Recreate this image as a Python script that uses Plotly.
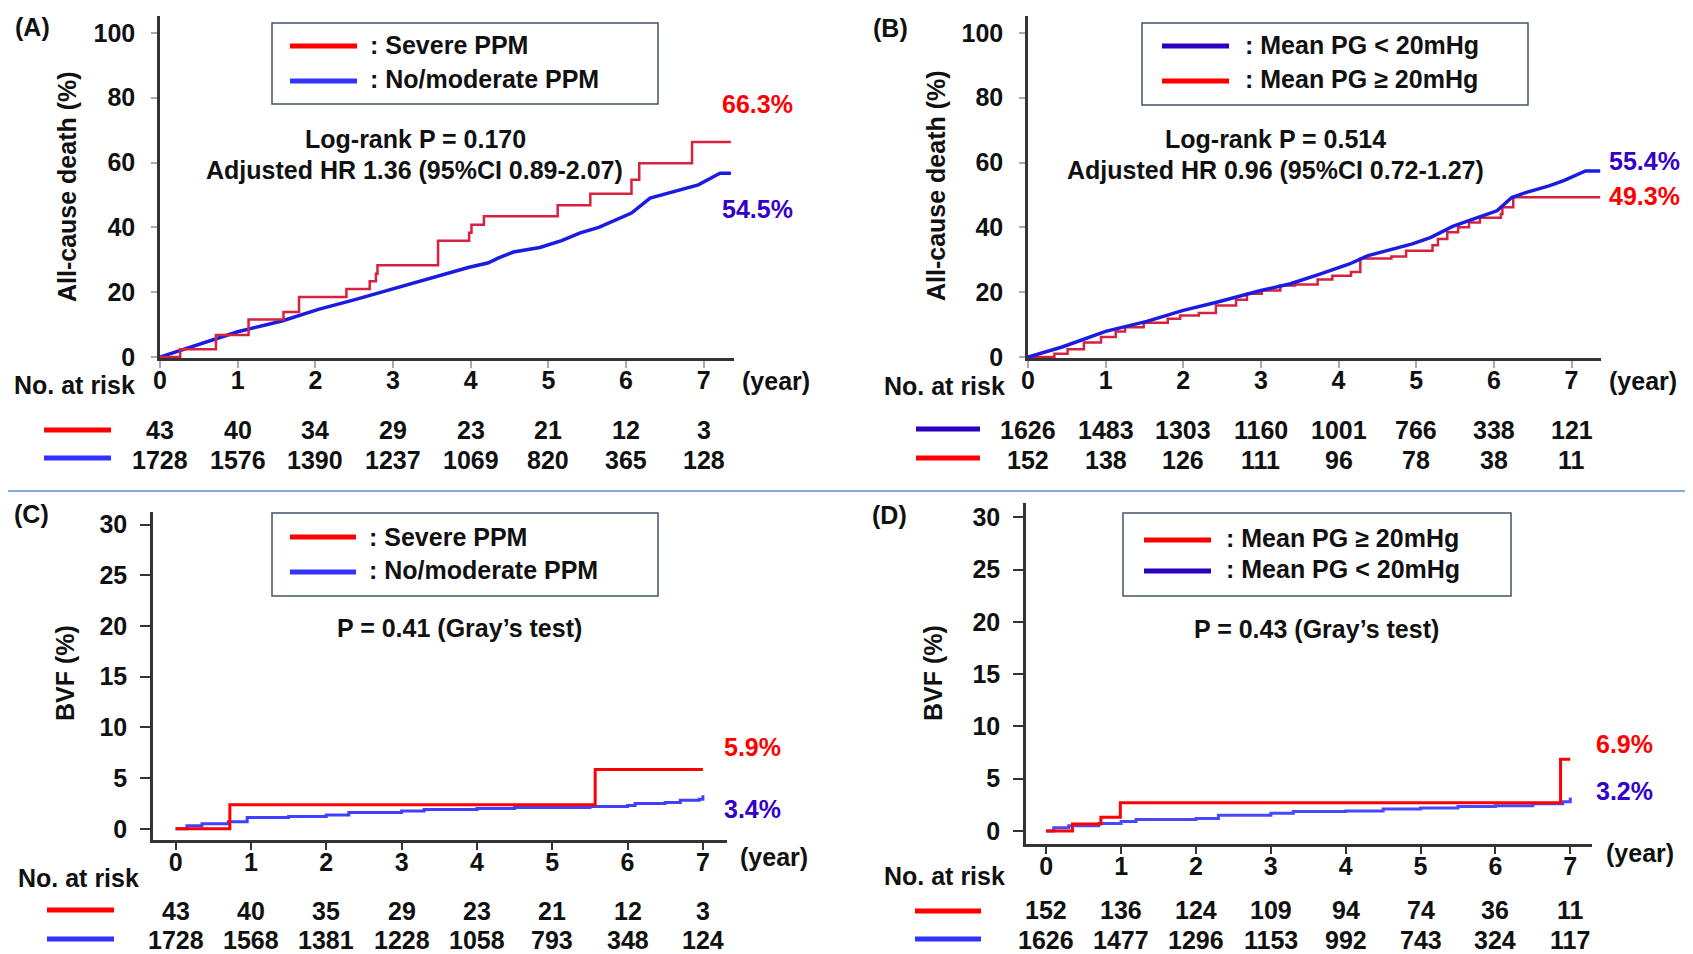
import plotly.graph_objects as go

# Page: body has 8px default margin; figure starts at page (8, 8) and runs to the window edge.
PAGE_W, PAGE_H = 1693, 954
OFF = 8
W, H = PAGE_W - OFF, PAGE_H - OFF
FONT = "Arial, 'Liberation Sans', sans-serif"
FS = 25

# ---------------- data ----------------
years = [0, 1, 2, 3, 4, 5, 6, 7]

# Panel A: all-cause death by PPM
A_red_t = [0, 0.26, 0.72, 1.14, 1.59, 1.79, 2.40, 2.70, 2.78, 2.80, 3.58, 3.98, 4.01, 4.17, 5.12, 5.54, 6.07, 6.17, 6.85, 7.35]
A_red_y = [0, 2.4, 6.8, 11.6, 13.9, 18.5, 21.0, 23.4, 25.7, 28.3, 35.9, 38.3, 40.8, 43.4, 46.8, 50.4, 54.7, 59.8, 66.3, 66.3]
A_blue_t = [0, 0.43, 1.0, 1.57, 2.04, 2.51, 3.04, 3.51, 3.98, 4.22, 4.36, 4.55, 4.89, 5.17, 5.41, 5.65, 5.98, 6.07, 6.31, 6.5, 6.78, 6.93, 7.21, 7.35]
A_blue_y = [0, 3.4, 7.8, 11.1, 14.7, 17.7, 21.3, 24.4, 27.7, 29.0, 30.6, 32.4, 33.8, 35.9, 38.3, 40.0, 43.4, 44.4, 49.0, 50.3, 52.1, 53.1, 56.7, 56.7]
A_risk_red = [43, 40, 34, 29, 23, 21, 12, 3]
A_risk_blue = [1728, 1576, 1390, 1237, 1069, 820, 365, 128]

# Panel B: all-cause death by mean PG
B_blue_t = [0, 0.44, 1.0, 1.53, 2.0, 2.43, 3.0, 3.38, 3.76, 4.14, 4.38, 4.71, 4.95, 5.19, 5.47, 5.76, 6.04, 6.23, 6.42, 6.71, 6.9, 7.18, 7.37]
B_blue_y = [0, 3.1, 7.9, 11.0, 14.4, 16.9, 20.5, 22.6, 25.6, 28.7, 31.3, 33.3, 34.9, 36.9, 40.3, 42.8, 45.1, 49.2, 50.8, 52.8, 54.4, 57.4, 57.4]
B_red_t = [0, 0.34, 0.51, 0.72, 0.94, 1.13, 1.25, 1.49, 1.80, 1.96, 2.20, 2.42, 2.68, 2.82, 3.01, 3.25, 3.44, 3.73, 3.92, 4.16, 4.28, 4.68, 4.87, 5.21, 5.28, 5.40, 5.54, 5.68, 5.82, 6.09, 6.11, 6.25, 7.37]
B_red_y = [0, 1.0, 2.4, 4.5, 6.2, 7.9, 9.2, 10.6, 11.8, 12.8, 13.6, 15.9, 17.7, 19.5, 20.5, 22.1, 22.4, 23.9, 25.1, 26.2, 30.4, 31.0, 32.8, 34.5, 36.4, 38.5, 40.0, 41.5, 43.0, 44.1, 46.2, 49.3, 49.3]
B_risk_blue = [1626, 1483, 1303, 1160, 1001, 766, 338, 121]
B_risk_red = [152, 138, 126, 111, 96, 78, 38, 11]

# Panel C: BVF by PPM
C_red_t = [0, 0.72, 5.57, 7.0]
C_red_y = [0, 2.37, 5.85, 5.85]
C_blue_t = [0, 0.15, 0.35, 0.7, 0.95, 1.5, 2.0, 2.3, 3.0, 3.3, 4.0, 4.5, 5.5, 6.0, 6.1, 6.5, 6.7, 6.95, 7.0]
C_blue_y = [0, 0.3, 0.5, 0.7, 1.1, 1.2, 1.35, 1.6, 1.75, 1.9, 2.0, 2.1, 2.2, 2.3, 2.5, 2.6, 2.8, 2.9, 3.3]
C_risk_red = [43, 40, 35, 29, 23, 21, 12, 3]
C_risk_blue = [1728, 1568, 1381, 1228, 1058, 793, 348, 124]

# Panel D: BVF by mean PG
D_red_t = [0, 0.35, 0.73, 0.99, 6.87, 7.0]
D_red_y = [0, 0.67, 1.3, 2.7, 6.86, 6.86]
D_blue_t = [0, 0.1, 0.3, 0.7, 1.0, 1.2, 2.0, 2.3, 3.0, 3.3, 4.0, 4.5, 5.0, 5.5, 6.0, 6.5, 6.9, 7.0]
D_blue_y = [0, 0.3, 0.5, 0.7, 0.9, 1.1, 1.2, 1.5, 1.7, 1.85, 1.9, 2.1, 2.2, 2.35, 2.4, 2.6, 2.8, 3.2]
D_risk_red = [152, 136, 124, 109, 94, 74, 36, 11]
D_risk_blue = [1626, 1477, 1296, 1153, 992, 743, 324, 117]

# ---------------- helpers ----------------
def fx(px):
    return (px - OFF) / W

def fy(py):
    return 1 - (py - OFF) / H

RED = "#FF0000"
CRIMSON = "#D8213F"
BLUE_L = "#3333FF"
BLUE_C = "#1C1CE0"
NAVY = "#2A00C0"
PCT_BLUE = "#3300CC"
AXC = "#333333"

fig = go.Figure()

def add_curve(t, y, color, width, axis, shape):
    fig.add_trace(go.Scatter(x=t, y=y, mode="lines", line=dict(color=color, width=width, shape=shape),
                             xaxis="x" + axis, yaxis="y" + axis, showlegend=False, hoverinfo="skip"))

add_curve(A_blue_t, A_blue_y, BLUE_C, 3.5, "", "linear")
add_curve(A_red_t, A_red_y, CRIMSON, 2.5, "", "hv")
add_curve(B_red_t, B_red_y, CRIMSON, 2.5, "2", "hv")
add_curve(B_blue_t, B_blue_y, BLUE_C, 3.5, "2", "linear")
add_curve(C_blue_t, C_blue_y, "#4040FF", 3, "3", "hv")
add_curve(C_red_t, C_red_y, RED, 3, "3", "hv")
add_curve(D_blue_t, D_blue_y, "#4848FF", 3, "4", "hv")
add_curve(D_red_t, D_red_y, RED, 3, "4", "hv")

tickfont = dict(family=FONT, size=FS, color="#111111", weight="bold")

def xaxis(dom, rng, anchor, tickcolor):
    return dict(domain=[fx(dom[0]), fx(dom[1])], range=rng, anchor=anchor, automargin=False,
                tickmode="array", tickvals=years, ticktext=[str(v) for v in years],
                ticks="outside", ticklen=7, tickwidth=1.5, tickcolor=tickcolor,
                showline=True, linecolor=AXC, linewidth=2.5, showgrid=False, zeroline=False,
                tickfont=tickfont, ticklabelstandoff=-9, fixedrange=True)

def yaxis(dom, rng, anchor, vals, tickcolor, ticklen, standoff):
    return dict(domain=[fy(dom[0]), fy(dom[1])], range=rng, anchor=anchor, automargin=False,
                tickmode="array", tickvals=vals, ticktext=[str(v) for v in vals],
                ticks="outside", ticklen=ticklen, tickwidth=1.5, tickcolor=tickcolor,
                showline=True, linecolor=AXC, linewidth=2.5, showgrid=False, zeroline=False,
                tickfont=tickfont, ticklabelstandoff=standoff, fixedrange=True)

yv_big = [0, 20, 40, 60, 80, 100]
yv_small = [0, 5, 10, 15, 20, 25, 30]

fig.update_layout(
    xaxis=xaxis((160, 734), [0, 7.39], "y", "#AAAAAA"),
    yaxis=yaxis((358, 16), [-0.3, 105.2], "x", yv_big, "#AAAAAA", 6, 11),
    xaxis2=xaxis((1028, 1601), [0, 7.38], "y2", "#AAAAAA"),
    yaxis2=yaxis((358, 16), [-0.3, 105.2], "x2", yv_big, "#AAAAAA", 6, 11),
    xaxis3=xaxis((153, 727), [-0.30, 7.32], "y3", AXC),
    yaxis3=yaxis((840, 512), [-1.11, 31.24], "x3", yv_small, AXC, 10, 8),
    xaxis4=xaxis((1026, 1592), [-0.27, 7.29], "y4", AXC),
    yaxis4=yaxis((844, 503), [-1.25, 31.38], "x4", yv_small, AXC, 10, 8),
)

ann = []
shapes = []

def text(x, y, s, color="#111111", xanchor="center", size=FS, xref="paper", angle=0):
    ann.append(dict(x=x, y=fy(y), xref=xref, yref="paper", text=s, showarrow=False,
                    xanchor=xanchor, yanchor="middle", textangle=angle,
                    font=dict(family=FONT, size=size, color=color, weight="bold")))

def hline(x0, x1, y, color, width):
    shapes.append(dict(type="line", xref="paper", yref="paper", x0=fx(x0), x1=fx(x1),
                       y0=fy(y), y1=fy(y), line=dict(color=color, width=width)))

def box(x0, x1, y0, y1):
    shapes.append(dict(type="rect", xref="paper", yref="paper", x0=fx(x0), x1=fx(x1),
                       y0=fy(y1), y1=fy(y0), line=dict(color="#44546A", width=1.5)))

# panel labels
text(fx(32), 27, "(A)")
text(fx(890), 28, "(B)")
text(fx(31), 514, "(C)")
text(fx(889), 515, "(D)")

# y titles
text(fx(67), 187, "All-cause death (%)", angle=-90)
text(fx(936), 186, "All-cause death (%)", angle=-90)
text(fx(65), 673, "BVF (%)", angle=-90)
text(fx(933), 673, "BVF (%)", angle=-90)

# (year)
text(fx(776), 381, "(year)")
text(fx(1643), 381, "(year)")
text(fx(774), 857, "(year)")
text(fx(1640), 853, "(year)")

# No. at risk
text(fx(74), 385, "No. at risk")
text(fx(944), 386, "No. at risk")
text(fx(78), 878, "No. at risk")
text(fx(944), 876, "No. at risk")

# risk tables
def risk_row(vals, xr, y):
    for t, v in zip(years, vals):
        text(t, y, str(v), xref=xr)

risk_row(A_risk_red, "x", 430)
risk_row(A_risk_blue, "x", 460)
hline(44, 111, 430, RED, 5)
hline(44, 111, 458, BLUE_L, 5)

risk_row(B_risk_blue, "x2", 430)
risk_row(B_risk_red, "x2", 460)
hline(916, 980, 429, NAVY, 5)
hline(916, 980, 458, RED, 5)

risk_row(C_risk_red, "x3", 911)
risk_row(C_risk_blue, "x3", 940)
hline(47, 114, 910, RED, 5)
hline(47, 114, 939, BLUE_L, 5)

risk_row(D_risk_red, "x4", 910)
risk_row(D_risk_blue, "x4", 940)
hline(915, 981, 911, RED, 5)
hline(915, 981, 939, BLUE_L, 5)

# legends
box(272, 658, 23, 104)
hline(290, 357, 46, RED, 5)
hline(290, 357, 81, BLUE_L, 5)
text(fx(368), 45, ": Severe PPM", xanchor="left")
text(fx(368), 79, ": No/moderate PPM", xanchor="left")

box(1142, 1528, 23, 105)
hline(1162, 1229, 46, NAVY, 5)
hline(1162, 1229, 81, RED, 5)
text(fx(1243), 45, ": Mean PG < 20mHg", xanchor="left")
text(fx(1243), 79, ": Mean PG \u2265 20mHg", xanchor="left")

box(272, 658, 513, 596)
hline(290, 356, 537, RED, 5)
hline(290, 356, 572, BLUE_L, 5)
text(fx(367), 537, ": Severe PPM", xanchor="left")
text(fx(367), 570, ": No/moderate PPM", xanchor="left")

box(1123, 1511, 513, 596)
hline(1144, 1211, 540, RED, 5)
hline(1144, 1211, 571, NAVY, 5)
text(fx(1224), 538, ": Mean PG \u2265 20mHg", xanchor="left")
text(fx(1224), 569, ": Mean PG < 20mHg", xanchor="left")

# statistics
text(fx(415), 139, "Log-rank P = 0.170")
text(fx(414), 170, "Adjusted HR 1.36 (95%CI 0.89-2.07)")
text(fx(1275), 139, "Log-rank P = 0.514")
text(fx(1275), 170, "Adjusted HR 0.96 (95%CI 0.72-1.27)")
text(fx(459), 628, "P = 0.41 (Gray\u2019s test)")
text(fx(1316), 629, "P = 0.43 (Gray\u2019s test)")

# end percentages
text(fx(757), 104, "66.3%", color=RED)
text(fx(757), 209, "54.5%", color=PCT_BLUE)
text(fx(1644), 161, "55.4%", color=PCT_BLUE)
text(fx(1644), 196, "49.3%", color=RED)
text(fx(752), 747, "5.9%", color=RED)
text(fx(752), 809, "3.4%", color=PCT_BLUE)
text(fx(1624), 744, "6.9%", color=RED)
text(fx(1624), 791, "3.2%", color=PCT_BLUE)

# separator
hline(8, 1693, 491, "#5B8FD6", 1.5)

fig.update_layout(
    width=W, height=H, margin=dict(l=0, r=0, t=0, b=0, autoexpand=False),
    paper_bgcolor="white", plot_bgcolor="rgba(0,0,0,0)",
    annotations=ann, shapes=shapes, showlegend=False,
    font=dict(family=FONT),
)

fig.write_html("out.html", config={"displayModeBar": False})
